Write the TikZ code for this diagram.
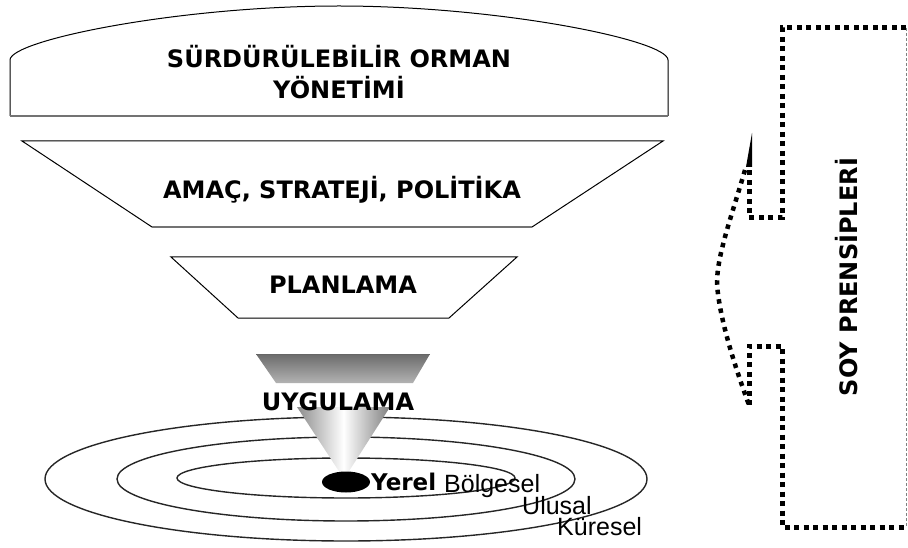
\documentclass[tikz,border=0pt]{standalone}
\usepackage{fontspec}
\setmainfont{DejaVu Sans}
\newfontfamily\arialf{Liberation Sans}
\begin{document}
\begin{tikzpicture}[x=1pt,y=-1pt,
  lbl/.style={font=\fontsize{24}{31}\selectfont\bfseries, align=center, inner sep=0pt},
  small/.style={font=\arialf\fontsize{25}{25}\selectfont, anchor=base west, inner sep=0pt},
  ring/.style={draw=black!85, line width=1.4pt},
  outline/.style={draw=black, line width=1pt, fill=white},
  shadowline/.style={draw=black!55, line width=2.5pt},
  sq/.style={draw=black, line width=5pt, dash pattern=on 5pt off 4.5pt},
  rnd/.style={draw=black, line width=4.5pt, dash pattern=on 4.5pt off 5pt},
]
\useasboundingbox (0,0) rectangle (908,548);

% --- top dome shape
\draw[outline] (10,116) -- (10,60) .. controls (10,40) and (180,6) .. (339,6)
  .. controls (498,6) and (668,40) .. (668,60) -- (668,116);
\draw[shadowline] (10,116) -- (668,116);
\node[lbl] (som) at (339,72.5) {SÜRDÜRÜLEBİLİR ORMAN\\YÖNETİMİ};

% --- trapezoid AMAC
\draw[outline] (152,227) -- (22,141) -- (663,141) -- (532,227);
\draw[shadowline] (152,227) -- (532,227);
\node[lbl] (amac) at (342,190) {AMAÇ, STRATEJİ, POLİTİKA};

% --- trapezoid PLANLAMA
\draw[outline] (238,318) -- (171,257) -- (517,257) -- (449,318) -- cycle;
\node[lbl] (plan) at (343,285) {PLANLAMA};

% --- rings
\draw[ring] (346,479) ellipse [x radius=301, y radius=62];
\draw[ring] (346,479) ellipse [x radius=229, y radius=42];
\draw[ring] (346,478) ellipse [x radius=169, y radius=20];

% --- UYGULAMA band and cone
\shade[top color=black!58, bottom color=black!30] (256,354) -- (430,354) -- (413,383) -- (276,383) -- cycle;
\draw[black!60, line width=1pt] (256,354) -- (430,354);
\shade[left color=black!45, right color=black!50, middle color=white] (297,407) -- (390,407) -- (344,479) -- cycle;
\fill[black] (346,482) ellipse [x radius=24, y radius=10.5];
\node[lbl] (uyg) at (338,402) {UYGULAMA};

% --- ring labels
\node[font=\fontsize{23}{23}\selectfont\bfseries, anchor=base west, inner sep=0pt] (yerel) at (371,490) {Yerel};
\node[small] (bolge) at (444,492) {Bölgesel};
\node[small] (ulusal) at (522,514) {Ulusal};
\node[small] (kure) at (557,535) {Küresel};

% --- dotted arrow frame
\coordinate (tr) at (906,28);
\coordinate (tl) at (782,28);
\coordinate (n1o) at (782,218);
\coordinate (n1i) at (749,218);
\coordinate (b1) at (749,163);
\coordinate (tip) at (752,133);
\coordinate (pt) at (717,283);
\coordinate (b2) at (749,405);
\coordinate (n2i) at (749,346);
\coordinate (n2o) at (782,346);
\coordinate (bl) at (782,527);
\coordinate (br) at (906,527);
\draw[sq] (tr) -- (tl) -- (n1o) -- (n1i) -- (b1);
\draw[sq] (b2) -- (n2i) -- (n2o) -- (bl) -- (br);
\fill[black] (746,167) -- (tip) -- (752,167) -- cycle;
\draw[rnd] (745,170) .. controls (732,215) and (717,255) .. (pt)
  .. controls (719,320) and (738,375) .. (b2);
\draw[black!50, line width=0.8pt, dash pattern=on 3pt off 2pt] (tr) -- (br);
\node[lbl, rotate=90] (soy) at (847,277) {SOY PRENSİPLERİ};
\end{tikzpicture}
\end{document}
